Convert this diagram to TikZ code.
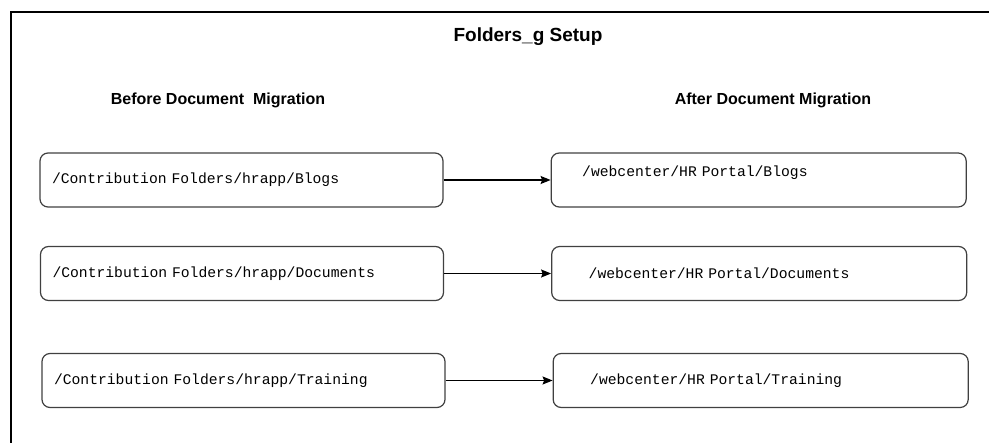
\documentclass[tikz,border=0pt]{standalone}
\usepackage{fontspec}
\setmainfont{Liberation Sans}
\newfontfamily\pathfont{Liberation Mono}
\newcommand\pathsize{\pathfont\fontsize{14.7}{17}\selectfont
	\fontdimen2\font=0.6em \fontdimen3\font=0pt \fontdimen4\font=0pt }
\usetikzlibrary{arrows.meta, positioning}

\begin{document}
\begin{tikzpicture}[
			x=1pt, y=-1pt,
			every node/.style={font=\fontsize{16}{19}\selectfont\bfseries},
			srcbox/.style={draw=black!75, line width=1.2pt, rounded corners=8pt,
				minimum height=54pt, inner xsep=12pt, text width=379pt,
				align=left, font=\pathsize},
			dstbox/.style={draw=black!75, line width=1.2pt, rounded corners=8pt,
				minimum height=54pt, inner xsep=37pt, text width=341pt,
				align=left, font=\pathsize},
			arr/.style={-{Stealth[length=10pt, width=8pt, inset=1.5pt]}, line width=1.2pt},
			frame/.style={line width=2pt},
			]
			\useasboundingbox (0,0) rectangle (989,443);

			% --- outer frame (open to the right and bottom) ---
			\draw[frame] (11,443) -- (11,12) -- (989,12);

			% --- headings ---
			\node[font=\fontsize{19}{22}\selectfont\bfseries] (title) at (528,37)
			{Folders\_g Setup};
			\node (before) at (218,100) {Before Document~~Migration};
			\node (after) at (773,100) {After Document Migration};

			% --- source folders (left) ---
			\node[srcbox] (blogsold) at (241.5,180)
			{/Contribution Folders/hrapp/Blogs};
			\node[srcbox] (docsold) at (242,273.5)
			{/Contribution Folders/hrapp/Documents};
			\node[srcbox] (trainold) at (243.5,380.5)
			{/Contribution Folders/hrapp/Training};

			% --- target folders (right) ---
			\node[dstbox, right=107pt of blogsold, inner xsep=31pt, text width=353pt,
			text depth=17pt] (blogsnew)
			{/webcenter/HR Portal/Blogs};
			\node[dstbox, right=107pt of docsold] (docsnew)
			{/webcenter/HR Portal/Documents};
			\node[dstbox, right=107pt of trainold] (trainnew)
			{/webcenter/HR Portal/Training};

			% ---- ARROWS: migration ----
			\draw[arr] (blogsold) -- (blogsnew);
			\draw[arr] (docsold) -- (docsnew);
			\draw[arr] (trainold) -- (trainnew);
		\end{tikzpicture}
\end{document}
